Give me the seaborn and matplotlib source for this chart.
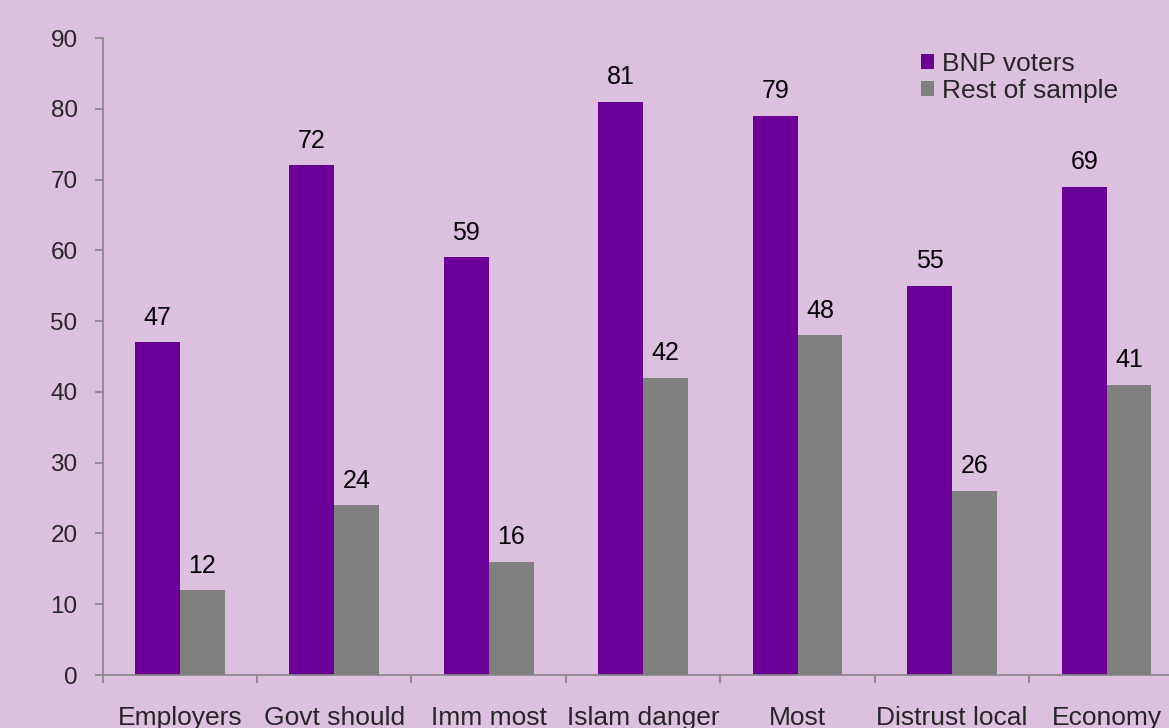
import numpy as np
import matplotlib
matplotlib.use('Agg')
import matplotlib.pyplot as plt
import seaborn as sns
import pandas as pd

categories = ['Employers', 'Govt should', 'Imm most', 'Islam danger', 'Most', 'Distrust local', 'Economy']
bnp_voters = [47, 72, 59, 81, 79, 55, 69]
rest_of_sample = [12, 24, 16, 42, 48, 26, 41]
series_names = ['BNP voters', 'Rest of sample']
y_ticks = list(range(0, 91, 10))

bg = '#dcc1de'
purple = '#6b0099'
grey = '#808080'

sns.set_theme(style='white')
plt.rcParams['font.family'] = ['Liberation Sans', 'DejaVu Sans']

df = pd.DataFrame({
    'category': categories * 2,
    'value': bnp_voters + rest_of_sample,
    'series': [series_names[0]] * len(categories) + [series_names[1]] * len(categories),
})

fig = plt.figure(figsize=(11.69, 7.28), dpi=100, facecolor=bg)
ax = fig.add_axes([0.0877, 0.0728, 0.925, 0.875])
ax.set_facecolor(bg)

sns.barplot(data=df, x='category', y='value', hue='series', order=categories,
            hue_order=series_names, palette=[purple, grey], width=0.58,
            saturation=1, linewidth=0, ax=ax)

for cont in ax.containers:
    ax.bar_label(cont, padding=9, fontsize=18, color='black')

ax.set_ylim(0, 90)
ax.set_xlim(-0.5, len(categories) - 0.5)
ax.set_yticks(y_ticks)
ax.set_xlabel('')
ax.set_ylabel('')

# ticks at category boundaries, labels at centres
ax.set_xticks(np.arange(-0.5, len(categories) + 0.5, 1))
ax.set_xticklabels([])
ax.set_xticks(range(len(categories)), minor=True)
ax.set_xticklabels(categories, minor=True, fontsize=19)
ax.tick_params(axis='x', which='major', direction='out', length=6, width=1.2, color='#868686', bottom=True)
ax.tick_params(axis='x', which='minor', length=0, pad=22)
ax.tick_params(axis='y', direction='out', length=6, width=1.2, color='#868686', left=True, labelsize=17.5, pad=12)

for s in ['top', 'right']:
    ax.spines[s].set_visible(False)
for s in ['left', 'bottom']:
    ax.spines[s].set_color('#868686')
    ax.spines[s].set_linewidth(1.2)

leg = ax.legend(loc='upper left', bbox_to_anchor=(0.747, 0.995), frameon=False, fontsize=19,
                handlelength=0.5, handleheight=0.5, handletextpad=0.3, labelspacing=0.12,
                borderaxespad=0)

fig.savefig('out.png', dpi=100, facecolor=bg)
